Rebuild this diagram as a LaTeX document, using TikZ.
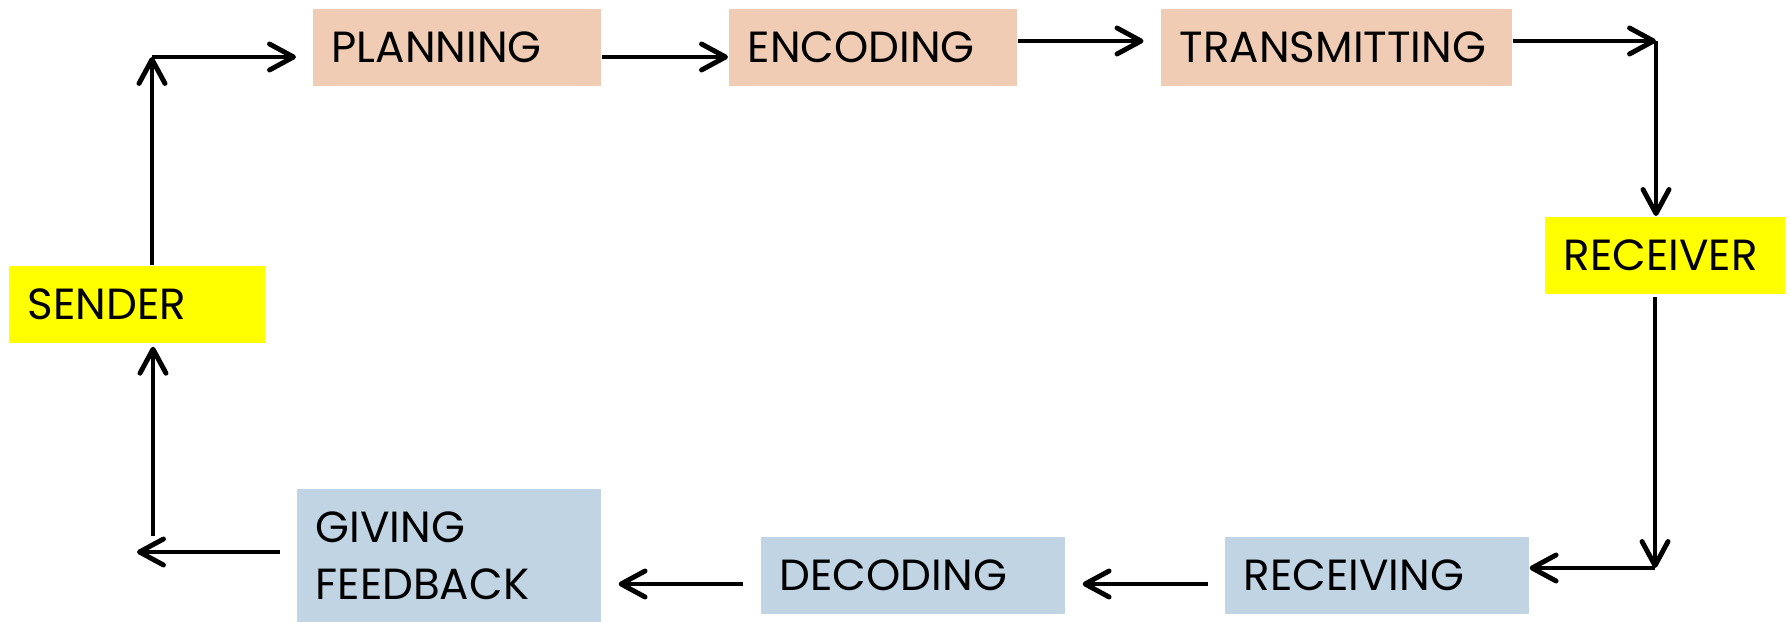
\documentclass[tikz,border=0pt]{standalone}
\usepackage{fontspec}
\setmainfont{Poppins}
\usetikzlibrary{arrows.meta}

\definecolor{peach}{RGB}{241,204,181}
\definecolor{paleblue}{RGB}{192,212,228}
\definecolor{brightyellow}{RGB}{255,255,0}

\begin{document}
\begin{tikzpicture}[x = 0.01cm, y = -0.01cm,
	stage/.style = {anchor = north west, inner xsep = 0.19cm, inner ysep = 0pt, minimum height = 0.777cm, align = left, font = \fontsize{12.4}{16}\selectfont},
	arr/.style = {-{Straight Barb[length = 2.4mm, width = 2.6mm, round]}, line width = 1.4pt}]
	%	frame
	\useasboundingbox (0, 0) rectangle (1791, 622);
	
	%	boxes
	\node[stage, fill = brightyellow, text width = 2.18cm] (sender) at (8, 265) {SENDER};
	\node[stage, fill = peach, text width = 2.50cm] (planning) at (312, 8) {PLANNING};
	\node[stage, fill = peach, text width = 2.50cm] (encoding) at (728, 8) {ENCODING};
	\node[stage, fill = peach, text width = 3.13cm] (transmitting) at (1160, 8) {TRANSMITTING};
	\node[stage, fill = brightyellow, text width = 2.02cm] (receiver) at (1544, 216) {RECEIVER};
	\node[stage, fill = paleblue, text width = 2.66cm] (receiving) at (1224, 536) {RECEIVING};
	\node[stage, fill = paleblue, text width = 2.66cm] (decoding) at (760, 536) {DECODING};
	\node[stage, fill = paleblue, text width = 2.66cm, minimum height = 1.34cm] (feedback) at (296, 488) {GIVING\\FEEDBACK};
	
	%	corners
	\coordinate (tl) at (152, 57);
	\coordinate (tr) at (1656, 41);
	\coordinate (br) at (1655, 568);
	\coordinate (bl) at (137, 552);
	\coordinate (blv) at (153, 536);
	\coordinate (low) at (0, 584);
	
	%	top row
	\draw[arr] (sender.north -| tl) -- (tl);
	\draw[arr, shorten > = 0.16cm] (tl) -- (planning.west |- tl);
	\draw[arr] (planning.east |- tl) -- (encoding.west |- tl);
	\draw[arr, shorten > = 0.165cm] (encoding.east |- tr) -- (transmitting.west |- tr);
	\draw[arr] (transmitting.east |- tr) -- (tr);
	\draw[arr] (tr) -- (receiver.north -| tr);
	
	%	bottom row
	\draw[arr, shorten < = 0.02cm] (receiver.south -| br) -- (br);
	\draw[arr] (br) -- (receiving.east |- br);
	\draw[arr, shorten < = 0.16cm, shorten > = 0.17cm] (receiving.west |- low) -- (decoding.east |- low);
	\draw[arr, shorten < = 0.17cm, shorten > = 0.17cm] (decoding.west |- low) -- (feedback.east |- low);
	\draw[arr, shorten < = 0.16cm] (feedback.west |- bl) -- (bl);
	\draw[arr, shorten > = 0.026cm] (blv) -- (sender.south -| blv);
\end{tikzpicture}
\end{document}
